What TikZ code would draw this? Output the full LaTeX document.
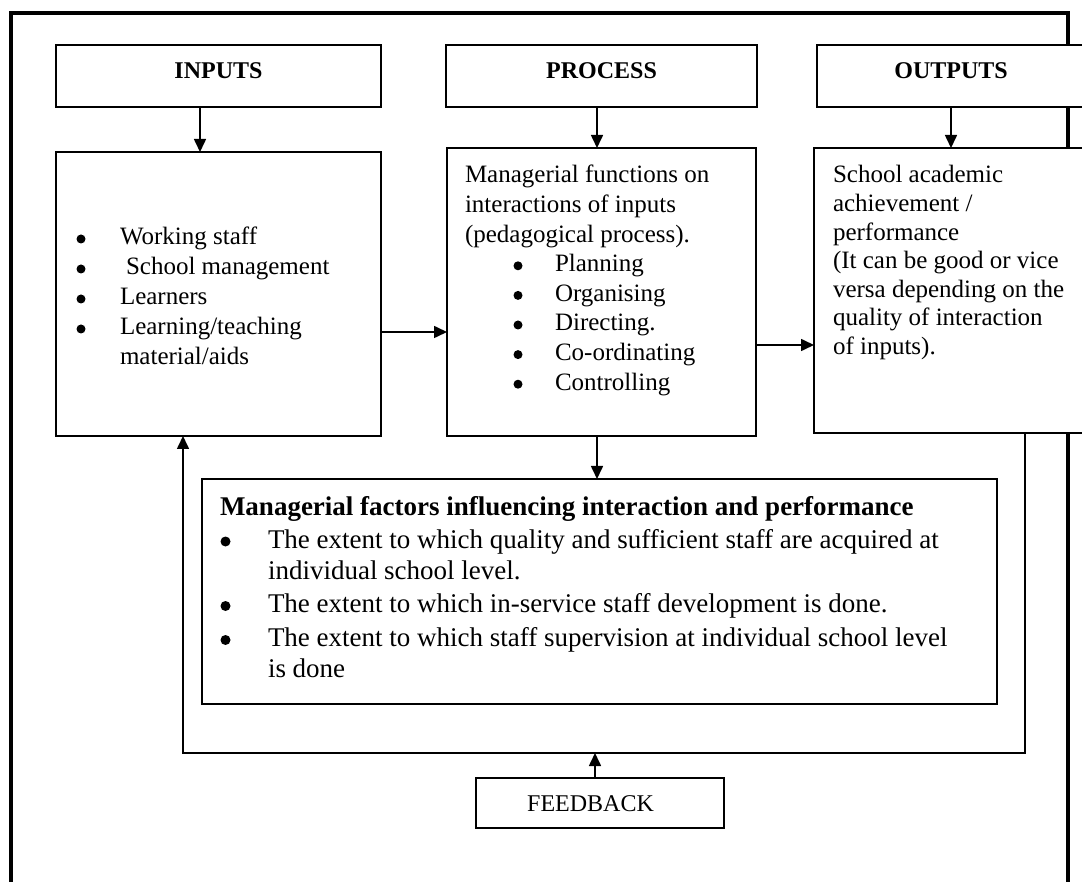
\documentclass[tikz,border=0pt]{standalone}
\usepackage{fontspec}
\setmainfont{Liberation Serif}
\usetikzlibrary{arrows.meta}

% round bullet (optional radius) set in a box of the given width
\newcommand\bul[2][4.5pt]{\makebox[#2][l]{\hspace*{0.5pt}\tikz[baseline=-1.5pt]\fill (#1,#1) circle[radius=#1];}}

\begin{document}
\begin{tikzpicture}[x=1pt,y=-1pt,
  box/.style={draw=black, fill=white, line width=1.8pt, inner sep=0pt, outer sep=0pt},
  head/.style={box, font=\fontsize{24}{28}\selectfont\bfseries,
    text height=16pt, text depth=10pt, minimum height=62pt},
  txt/.style={inner sep=0pt, outer sep=0pt, anchor=base west},
  arr/.style={line width=1.6pt, -{Triangle[length=13pt,width=12pt]}},
]
\clip (0,0) rectangle (1082,882);
\fill[white] (0,0) rectangle (1082,882);

% outer frame, open at the bottom
\draw[line width=3.5pt] (11,900) -- (11,13) -- (1068,13) -- (1068,900);

% column headings
\node[head, minimum width=325pt] (inH)  at (218.5,76) {INPUTS};
\node[head, minimum width=311pt] (prH)  at (601.5,76) {PROCESS};
\node[head, minimum width=268pt] (outH) at (951,76)   {OUTPUTS};

% column bodies
\node[box, minimum width=325pt, minimum height=284pt] (inB)  at (218.5,294)  {};
\node[box, minimum width=309pt, minimum height=288pt] (prB)  at (601.5,292)  {};
\node[box, minimum width=271pt, minimum height=285pt] (outB) at (949.5,290.5) {};

% managerial factors and feedback
\node[box, minimum width=795pt, minimum height=225pt] (mg) at (599.5,591.5) {};
\node[box, minimum width=248pt, minimum height=50pt]  (fb) at (600,803) {};

% texts
\node[txt, font=\fontsize{25}{30}\selectfont] (inT) at (76,245) {\parbox[t]{300pt}{\raggedright
\bul{44pt}Working staff\\
\bul{44pt}\hspace*{6pt}School management\\
\bul{44pt}Learners\\
\bul{44pt}Learning/teaching\\
\hspace*{44pt}material/aids}};

\node[txt, font=\fontsize{25}{29.6}\selectfont] (prT) at (465,183) {\parbox[t]{285pt}{\raggedright
Managerial functions on\\
interactions of inputs\\
(pedagogical process).\\
\hspace*{48pt}\bul{42pt}Planning\\
\hspace*{48pt}\bul{42pt}Organising\\
\hspace*{48pt}\bul{42pt}Directing.\\
\hspace*{48pt}\bul{42pt}Co-ordinating\\
\hspace*{48pt}\bul{42pt}Controlling}};

\node[txt, font=\fontsize{25}{28.6}\selectfont] (outT) at (833,183) {\parbox[t]{240pt}{\raggedright
School academic\\
achievement /\\
performance\\
(It can be good or vice\\
versa depending on the\\
quality of interaction\\
of inputs).}};

\node[txt, font=\fontsize{27}{31}\selectfont] (mgT) at (220,515) {\parbox[t]{770pt}{\raggedright
\textbf{Managerial factors influencing interaction and performance}\\[2pt]
\bul[5pt]{48pt}The extent to which quality and sufficient staff are acquired at\\
\hspace*{48pt}individual school level.\\[2.5pt]
\bul[5pt]{48pt}The extent to which in-service staff development is done.\\[3pt]
\bul[5pt]{48pt}The extent to which staff supervision at individual school level\\
\hspace*{48pt}is done}};

\node[inner sep=0pt, anchor=base, font=\fontsize{24}{28}\selectfont] (fbT) at (590.5,811) {FEEDBACK};

% heading to body arrows
\draw[arr] ([xshift=-18.5pt]inH.south) -- ([xshift=-18.5pt]inB.north);
\draw[arr] ([xshift=-4.5pt]prH.south) -- ([xshift=-4.5pt]prB.north);
\draw[arr] (outH.south) -- (outH.south |- outB.north);

% flow between the columns
\coordinate (ip) at ([yshift=-38pt]inB.east);
\draw[arr] (ip) -- (ip -| prB.west);
\coordinate (po) at ([yshift=-53pt]prB.east);
\draw[arr] (po) -- (po -| outB.west);
\coordinate (pm) at ([xshift=-4.5pt]prB.south);
\draw[arr] (pm) -- (pm |- mg.north);

% feedback loop
\coordinate (fbL) at (183,753);
\coordinate (fbR) at ([xshift=211pt]outB.south west);
\draw[arr] (fbR) |- (fbL) -- (fbL |- inB.south);
\coordinate (fu) at ([xshift=-5pt]fb.north);
\draw[arr] (fu) -- (fu |- fbL);
\end{tikzpicture}
\end{document}
